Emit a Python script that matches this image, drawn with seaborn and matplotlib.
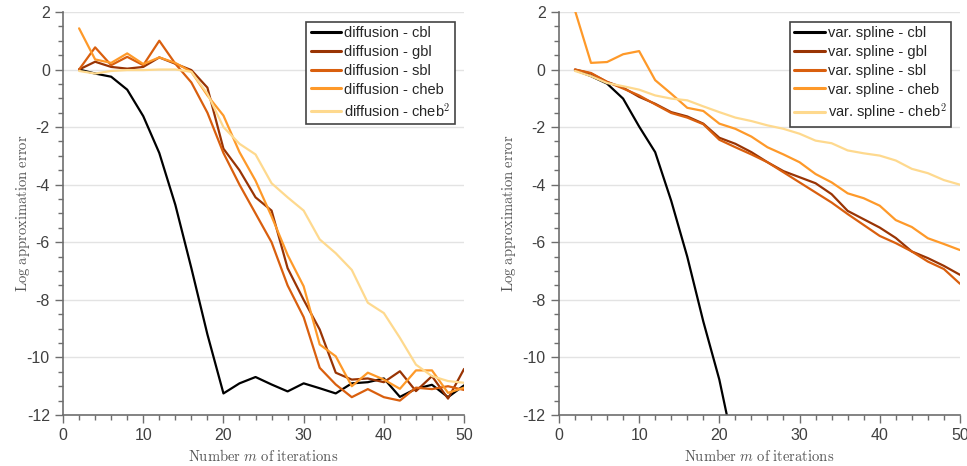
import matplotlib
matplotlib.use("Agg")
import matplotlib.pyplot as plt
import seaborn as sns
import pandas as pd
from matplotlib.ticker import MultipleLocator

# iteration numbers
m = list(range(2, 51, 2))

# diffusion (left panel)
diff_cbl = [0, -0.14, -0.25, -0.7, -1.62, -2.9, -4.7, -6.9, -9.2, -11.25, -10.9, -10.68, -10.94,
            -11.18, -10.9, -11.07, -11.25, -10.9, -10.86, -10.73, -11.37, -11.09, -10.95, -11.38, -10.97]
diff_gbl = [0, 0.27, 0.09, 0.03, 0.09, 0.42, 0.2, -0.02, -0.63, -2.75, -3.5, -4.44, -4.9,
            -6.9, -8.0, -9.03, -10.53, -10.77, -10.73, -10.86, -10.48, -11.17, -10.65, -11.43, -10.4]
diff_sbl = [0, 0.77, 0.15, 0.44, 0.15, 1.0, 0.2, -0.45, -1.5, -2.9, -4.0, -5.0, -6.0,
            -7.5, -8.6, -10.36, -10.94, -11.38, -11.1, -11.38, -11.5, -11.05, -11.1, -11.0, -11.13]
diff_cheb = [1.43, 0.35, 0.23, 0.56, 0.19, 0.42, 0.23, -0.08, -0.9, -1.6, -2.87, -3.86, -5.1,
             -6.44, -7.53, -9.55, -9.96, -11.0, -10.53, -10.77, -11.09, -10.45, -10.45, -11.23, -11.05]
diff_cheb2 = [-0.05, -0.14, -0.05, -0.02, -0.02, 0, 0, -0.08, -0.84, -2.0, -2.58, -2.95, -3.95,
              -4.44, -4.9, -5.9, -6.38, -6.96, -8.1, -8.46, -9.32, -10.25, -10.65, -10.82, -10.88]

# variational spline (right panel)
vs_cbl = [-0.02, -0.23, -0.49, -1.01, -1.98, -2.87, -4.56, -6.5, -8.75, -10.77, -13.4]
vs_gbl = [0, -0.14, -0.43, -0.63, -0.95, -1.19, -1.48, -1.63, -1.88, -2.37, -2.58, -2.87, -3.22,
          -3.53, -3.74, -3.95, -4.33, -4.91, -5.2, -5.49, -5.85, -6.32, -6.55, -6.82, -7.13]
vs_sbl = [0, -0.12, -0.43, -0.66, -0.9, -1.21, -1.51, -1.67, -1.9, -2.44, -2.7, -2.95, -3.22,
          -3.57, -3.92, -4.27, -4.62, -5.02, -5.4, -5.78, -6.03, -6.32, -6.67, -6.93, -7.44]
vs_cheb = [2.05, 0.23, 0.26, 0.53, 0.64, -0.37, -0.84, -1.33, -1.44, -1.88, -2.06, -2.33, -2.7,
           -2.95, -3.22, -3.63, -3.92, -4.3, -4.47, -4.73, -5.23, -5.47, -5.86, -6.06, -6.27]
vs_cheb2 = [-0.05, -0.23, -0.47, -0.58, -0.7, -0.9, -1.01, -1.07, -1.28, -1.48, -1.67, -1.79, -1.94,
            -2.06, -2.23, -2.47, -2.56, -2.81, -2.91, -2.99, -3.16, -3.45, -3.6, -3.84, -4.0]

suffixes = ["cbl", "gbl", "sbl", "cheb", "cheb$^2$"]
colors = ["#000000", "#993404", "#d95f0e", "#fe9929", "#fed98e"]

sns.set_theme(style="ticks")
plt.rcParams["mathtext.fontset"] = "cm"
plt.rcParams["axes.unicode_minus"] = False
plt.rcParams["font.family"] = ["Liberation Sans", "DejaVu Sans"]


def long_frame(prefix, series):
    rows = []
    for suf, vals in zip(suffixes, series):
        name = f"{prefix} - {suf}"
        for x, v in zip(m, vals):
            rows.append((x, v, name))
    return pd.DataFrame(rows, columns=["m", "err", "method"])


panels = [
    ("diffusion", [diff_cbl, diff_gbl, diff_sbl, diff_cheb, diff_cheb2]),
    ("var. spline", [vs_cbl, vs_gbl, vs_sbl, vs_cheb, vs_cheb2]),
]

fig = plt.figure(figsize=(9.67, 4.66), dpi=100)
axes = [fig.add_axes([0.0652, 0.1094, 0.4147, 0.865]),
        fig.add_axes([0.578, 0.1094, 0.4147, 0.865])]
ylabel_x = [-0.077, -0.102]

grey = "#6e6e6e"
for ax, (prefix, series), lx in zip(axes, panels, ylabel_x):
    df = long_frame(prefix, series)
    names = [f"{prefix} - {s}" for s in suffixes]
    sns.lineplot(data=df, x="m", y="err", hue="method", hue_order=names,
                 palette=dict(zip(names, colors)), linewidth=1.6, ax=ax)
    ax.set_xlim(0, 50)
    ax.set_ylim(-12, 2)
    ax.xaxis.set_major_locator(MultipleLocator(10))
    ax.xaxis.set_minor_locator(MultipleLocator(2))
    ax.yaxis.set_major_locator(MultipleLocator(2))
    ax.yaxis.set_minor_locator(MultipleLocator(0.5))
    ax.grid(axis="y", which="major", color="#e3e3e3", linewidth=1)
    ax.set_axisbelow(True)
    for s in ["top", "right"]:
        ax.spines[s].set_visible(False)
    for s in ["left", "bottom"]:
        ax.spines[s].set_color(grey)
        ax.spines[s].set_linewidth(1.2)
    ax.tick_params(which="major", length=6, width=1, color=grey, labelcolor="#404040",
                   labelsize=11.5, direction="out")
    ax.tick_params(which="minor", length=3.5, width=1, color=grey, direction="out")
    ax.set_xlabel(r"$\mathrm{Number}\ m\ \mathrm{of\ iterations}$", fontsize=10.5, color="#555555")
    ax.set_ylabel(r"$\mathrm{Log\ approximation\ error}$", fontsize=10.5, color="#555555")
    ax.xaxis.set_label_coords(0.5, -0.082)
    ax.yaxis.set_label_coords(lx, 0.5)
    leg = ax.legend(loc="upper right", bbox_to_anchor=(0.985, 0.983), fontsize=10.5,
                    frameon=True, fancybox=False, handlelength=2.1, handletextpad=0.2,
                    borderpad=0.3, labelspacing=0.33, borderaxespad=0.2)
    leg.get_frame().set_edgecolor("#444444")
    leg.get_frame().set_linewidth(1.2)
    leg.get_frame().set_alpha(1)
    for line in leg.get_lines():
        line.set_linewidth(2.2)

fig.savefig("out.png", dpi=100)
